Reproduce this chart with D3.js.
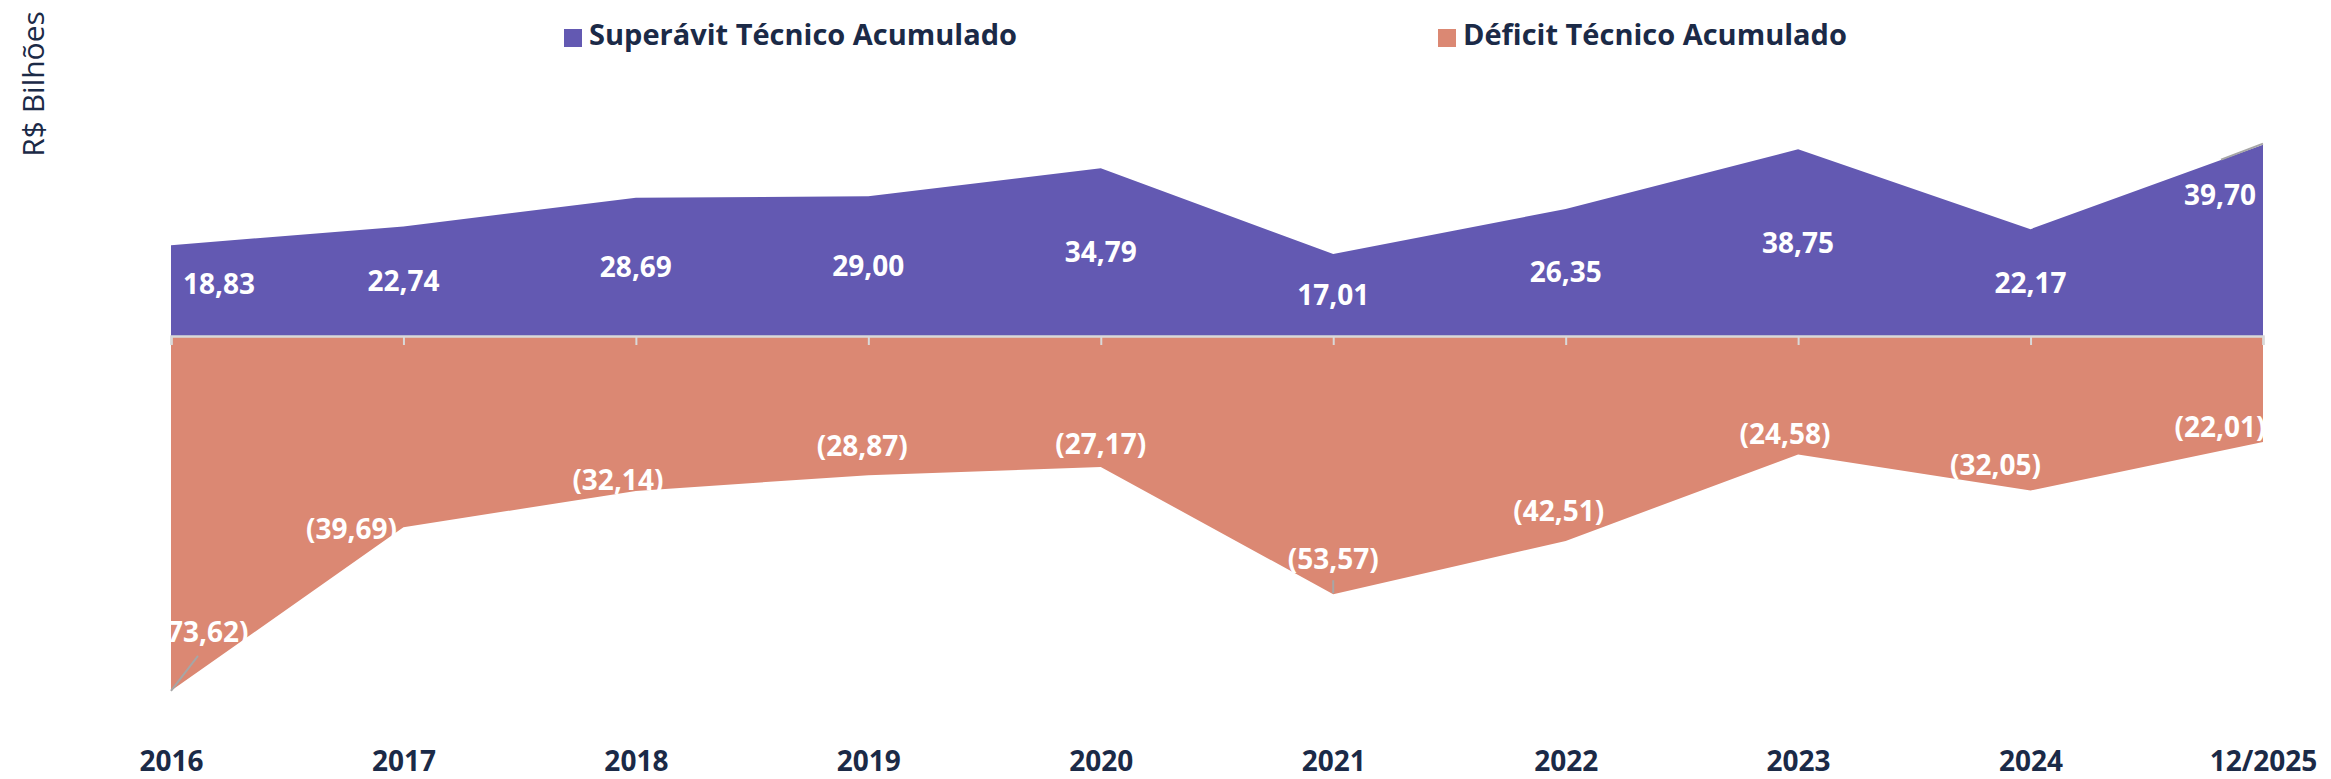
<!DOCTYPE html>
<html>
<head>
<meta charset="utf-8">
<script src="https://cdn.jsdelivr.net/npm/d3@7"></script>
<style>
  html, body { margin: 0; padding: 0; background: #ffffff; }
  svg { display: block; }
</style>
</head>
<body>
<svg id="chart" width="2331" height="779"></svg>
<script>
// ---- data ----
const years = ["2016", "2017", "2018", "2019", "2020", "2021", "2022", "2023", "2024", "12/2025"];
const superavit = [18.83, 22.74, 28.69, 29.00, 34.79, 17.01, 26.35, 38.75, 22.17, 39.70];
const deficit = [-73.62, -39.69, -32.14, -28.87, -27.17, -53.57, -42.51, -24.58, -32.05, -22.01];
const seriesNames = ["Superávit Técnico Acumulado", "Déficit Técnico Acumulado"];
const yTitle = "R$ Bilhões";

// ---- label nudges (layout, px) ----
const supDx = [48, 0, 0, 0, 0, 0, 0, 0, 0, -43];
const supDy = [-7, 0, 0, 0, 0, 0, 0, 0, 0, -45];
const defDx = [32, -52, -18, -6, 0, 0, -7, -13, -35, -43];
const defDy = [-49, 12, -1, -19, -13, -25, -20, -10, -15, -5];

// ---- styles ----
const purple = "#6359B2";
const salmon = "#DB8873";
const navy = "#1B2A47";
const fontFam = "'Open Sans', 'Noto Sans', sans-serif";

const svg = d3.select("#chart");

const x = d3.scalePoint().domain(years).range([171, 2263]);
const y = d3.scaleLinear().domain([-80, 45]).range([336 + 80 * 4.82, 336 - 45 * 4.82]);

const supData = years.map((yr, i) => ({ yr, v: superavit[i], i }));
const defData = years.map((yr, i) => ({ yr, v: deficit[i], i }));

const area = d3.area()
  .x(d => x(d.yr))
  .y0(y(0))
  .y1(d => y(d.v));

svg.append("path").datum(defData).attr("d", area).attr("fill", salmon);
svg.append("path").datum(supData).attr("d", area).attr("fill", purple);

// ---- axis at zero ----
const axis = d3.axisBottom(x).tickSize(9).tickFormat("");
const gAxis = svg.append("g").attr("transform", `translate(0,${y(0)})`).call(axis);
gAxis.select(".domain").attr("stroke", "#d9d9d9").attr("stroke-width", 2.5);
gAxis.selectAll(".tick line").attr("stroke", "#d9d9d9").attr("stroke-width", 2);

// ---- category labels ----
const axisLabels = d3.axisBottom(x).tickSize(0).tickPadding(0);
const gLab = svg.append("g").attr("transform", "translate(0,771)").call(axisLabels);
gLab.select(".domain").remove();
gLab.selectAll(".tick text")
  .attr("y", 0).attr("dy", 0)
  .attr("fill", navy)
  .style("font-family", fontFam)
  .style("font-weight", 700)
  .style("font-size", "28px");

// ---- leader lines ----
const leaders = svg.append("g").attr("stroke", "#a6a6a6").attr("stroke-width", 2).attr("fill", "none");
leaders.append("line")
  .attr("x1", x(years[0])).attr("y1", y(deficit[0]))
  .attr("x2", x(years[0]) + 27).attr("y2", y(deficit[0]) - 35);
leaders.append("line")
  .attr("x1", x(years[5])).attr("y1", y(deficit[5]) - 1)
  .attr("x2", x(years[5])).attr("y2", y(deficit[5]) - 14);
leaders.append("line")
  .attr("x1", x(years[9])).attr("y1", y(superavit[9]) - 1)
  .attr("x2", x(years[9]) - 42).attr("y2", y(superavit[9]) + 15);

// ---- data labels ----
const fmt = v => {
  const s = Math.abs(v).toFixed(2).replace(".", ",");
  return v < 0 ? "(" + s + ")" : s;
};

svg.append("clipPath").attr("id", "labclip")
  .append("rect").attr("x", 167).attr("y", 0).attr("width", 2331).attr("height", 779);

const gl = svg.append("g").attr("clip-path", "url(#labclip)")
  .style("font-family", fontFam).style("font-weight", 700).style("font-size", "28px")
  .attr("fill", "#ffffff").attr("text-anchor", "middle");

gl.selectAll("text.sup").data(supData).enter().append("text")
  .attr("class", "sup")
  .attr("x", d => x(d.yr) + supDx[d.i])
  .attr("y", d => (y(d.v) + y(0)) / 2 + 10 + supDy[d.i])
  .text(d => fmt(d.v));

gl.selectAll("text.def").data(defData).enter().append("text")
  .attr("class", "def")
  .attr("x", d => x(d.yr) + defDx[d.i])
  .attr("y", d => y(d.v) + defDy[d.i])
  .text(d => fmt(d.v));

// ---- legend ----
const legendX = [564, 1438];
const colors = [purple, salmon];
const lg = svg.append("g");
seriesNames.forEach((name, i) => {
  lg.append("rect").attr("x", legendX[i]).attr("y", 29).attr("width", 18).attr("height", 18).attr("fill", colors[i]);
  lg.append("text").attr("x", legendX[i] + 25).attr("y", 45)
    .attr("fill", navy)
    .style("font-family", fontFam).style("font-weight", 700).style("font-size", "29px")
    .text(name);
});

// ---- y title ----
svg.append("text")
  .attr("transform", "translate(44,84) rotate(-90)")
  .attr("text-anchor", "middle")
  .attr("fill", navy)
  .style("font-family", fontFam).style("font-size", "30px")
  .text(yTitle);
</script>
</body>
</html>
